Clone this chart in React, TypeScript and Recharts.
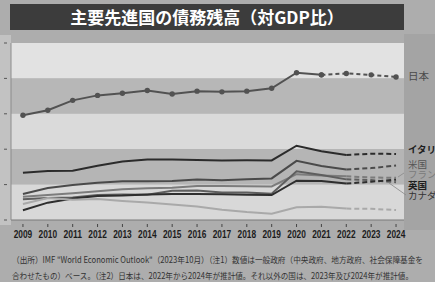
import { LineChart, Line, XAxis, YAxis, ReferenceArea } from "recharts";

// IMF WEO (Oct 2023) general government gross debt, % of GDP
const years = [2009, 2010, 2011, 2012, 2013, 2014, 2015, 2016, 2017, 2018, 2019, 2020, 2021, 2022, 2023, 2024];
const japan = [198, 205, 219, 226, 229, 233, 228, 232, 231, 232, 236, 258, 255, 257, 255, 252];
const italy = [116.6, 119.2, 119.7, 126.5, 132.5, 135.4, 135.3, 134.8, 134.2, 134.4, 134.2, 154.9, 147.1, 141.7, 143.7, 143.2];
const us = [86.6, 95.1, 99.5, 102.5, 104.6, 104.6, 105.1, 107.2, 106.2, 107.5, 108.7, 133.5, 126.4, 121.4, 123.3, 126.9];
const france = [83, 85.3, 87.8, 90.6, 93.4, 94.9, 95.6, 98, 98.1, 97.8, 97.4, 114.7, 112.9, 111.8, 110, 109.6];
const canada = [79.3, 81.2, 81.8, 85.4, 86.1, 85.6, 91.2, 91.7, 88.8, 88.8, 87.2, 118.9, 113.5, 107.4, 106.4, 103.3];
const uk = [63.8, 74.5, 80.5, 83.9, 84.5, 86.1, 86.7, 86.8, 86.3, 85.8, 85.2, 105.6, 105.2, 101.4, 104.1, 106.9];
const germany = [72.6, 80.9, 78.6, 79.8, 77, 74.6, 71.9, 69, 64.6, 61.3, 58.9, 68, 68.6, 66.1, 65.9, 64];
const yTicks = [50, 100, 150, 200, 250, 300];

// last actual year: Japan 2021, others 2022
const japanLastActual = 2021;
const othersLastActual = 2022;

const series = [
  { key: "italy", values: italy, color: "#2b2b2b", last: othersLastActual },
  { key: "us", values: us, color: "#4a4a4a", last: othersLastActual },
  { key: "france", values: france, color: "#7c7c7c", last: othersLastActual },
  { key: "canada", values: canada, color: "#5e5e5e", last: othersLastActual },
  { key: "uk", values: uk, color: "#2e2e2e", last: othersLastActual },
  { key: "germany", values: germany, color: "#a9a9a9", last: othersLastActual },
  { key: "japan", values: japan, color: "#525252", last: japanLastActual },
];

const rows = years.map((year, i) => {
  const row: Record<string, number | null> = { year };
  series.forEach((s) => {
    row[s.key] = year <= s.last ? s.values[i] : null;
    row[s.key + "Est"] = year >= s.last ? s.values[i] : null;
  });
  return row;
});

const bands = [
  { y1: 250, y2: 300, fill: "#e2e2e2" },
  { y1: 200, y2: 250, fill: "#b7b7b7" },
  { y1: 150, y2: 200, fill: "#dadada" },
  { y1: 100, y2: 150, fill: "#b5b5b5" },
  { y1: 50, y2: 100, fill: "#d8d8d8" },
];

const labels = [
  { text: "日本", top: 71, size: 10.5, color: "#4a4a4a", weight: 400 },
  { text: "イタリア", top: 144, size: 9.5, color: "#1e1e1e", weight: 700 },
  { text: "米国", top: 158.5, size: 9.5, color: "#555", weight: 400 },
  { text: "フランス", top: 169.3, size: 9.5, color: "#7a7a7a", weight: 400 },
  { text: "英国", top: 179.5, size: 9.5, color: "#1e1e1e", weight: 700 },
  { text: "カナダ", top: 189.7, size: 9.5, color: "#333", weight: 400 },
];

const XTick = ({ x, y, payload }: any) => (
  <g>
    <line x1={x} x2={x} y1={y + 4} y2={y + 7} stroke="#444" />
    <text
      x={x}
      y={y + 18}
      textAnchor="middle"
      fontSize={10.5}
      fontWeight={700}
      fontFamily="Liberation Sans, Arial, sans-serif"
      fill="#1c1c1c"
      textLength={18.5}
      lengthAdjust="spacingAndGlyphs"
    >
      {payload.value}
    </text>
  </g>
);

const YTick = ({ y }: any) => <line x1={4} x2={7} y1={y} y2={y} stroke="#555" />;

export default function App() {
  const jp = "'Noto Sans CJK JP', 'Noto Sans', sans-serif";
  return (
    <div style={{ position: "absolute", left: 0, top: 0, width: 435, height: 282, background: "#adadad", overflow: "hidden", fontFamily: jp }}>
      <div style={{ position: "absolute", left: 0, top: 35, width: 11, height: 190, background: "#c2c2c2" }} />
      <div style={{ position: "absolute", left: 404, top: 34, width: 31, height: 196, background: "#a4a4a4" }} />
      <div style={{ position: "absolute", left: 0, top: 0 }}>
        <LineChart width={435} height={282} data={rows} margin={{ top: 43, right: 31, bottom: 32, left: 0 }}>
          {bands.map((b) => (
            <ReferenceArea key={b.y1} y1={b.y1} y2={b.y2} fill={b.fill} fillOpacity={1} stroke="none" ifOverflow="visible" />
          ))}
          <XAxis
            dataKey="year"
            type="number"
            domain={[2008.52, 2024.32]}
            ticks={years}
            allowDataOverflow
            height={30}
            tickLine={false}
            tickSize={0}
            tickMargin={0}
            axisLine={{ stroke: "#7a7a7a" }}
            tick={<XTick />}
            interval={0}
          />
          <YAxis
            type="number"
            domain={[50, 300]}
            ticks={yTicks}
            width={11}
            tickLine={false}
            tickSize={0}
            axisLine={{ stroke: "#8c8c8c" }}
            tick={<YTick />}
            interval={0}
          />
          {series.map((s) => (
            <Line
              key={s.key}
              dataKey={s.key}
              stroke={s.color}
              strokeWidth={2}
              dot={s.key === "japan" ? { r: 2.7, fill: s.color, stroke: "none" } : false}
              isAnimationActive={false}
              connectNulls={false}
            />
          ))}
          {series.map((s) => (
            <Line
              key={s.key + "Est"}
              dataKey={s.key + "Est"}
              stroke={s.color}
              strokeWidth={2}
              strokeDasharray={s.key === "japan" ? "4 3" : "5 3"}
              dot={s.key === "japan" ? { r: 2.7, fill: s.color, stroke: "none" } : false}
              isAnimationActive={false}
              connectNulls={false}
            />
          ))}
        </LineChart>
      </div>
      <div style={{ position: "absolute", left: 10, top: 4, width: 394, height: 26, background: "#3c3c3c", color: "#fff", fontSize: 17, fontWeight: 700, lineHeight: "26px", textAlign: "center", letterSpacing: 0 }}>
        主要先進国の債務残高（対GDP比）
      </div>
      {labels.map((l) => (
        <div key={l.text} style={{ position: "absolute", left: 408, top: l.top, fontSize: l.size, lineHeight: "10px", color: l.color, fontWeight: l.weight, whiteSpace: "nowrap" }}>
          {l.text}
        </div>
      ))}
      <svg style={{ position: "absolute", left: 0, top: 0 }} width={435} height={282}>
        <line x1={404} y1={173} x2={398} y2={177} stroke="#888" strokeWidth={0.8} />
        <line x1={406} y1={195} x2={389} y2={183} stroke="#888" strokeWidth={0.8} />
        <text x={12} y={263} fontSize={8.5} fill="#333" fontFamily={jp} textLength={411} lengthAdjust="spacingAndGlyphs">
          （出所）IMF "World Economic Outlook"（2023年10月）（注1）数値は一般政府（中央政府、地方政府、社会保障基金を
        </text>
        <text x={12} y={279} fontSize={8.5} fill="#333" fontFamily={jp} textLength={401} lengthAdjust="spacingAndGlyphs">
          合わせたもの）ベース。（注2）日本は、2022年から2024年が推計値。それ以外の国は、2023年及び2024年が推計値。
        </text>
      </svg>
    </div>
  );
}
